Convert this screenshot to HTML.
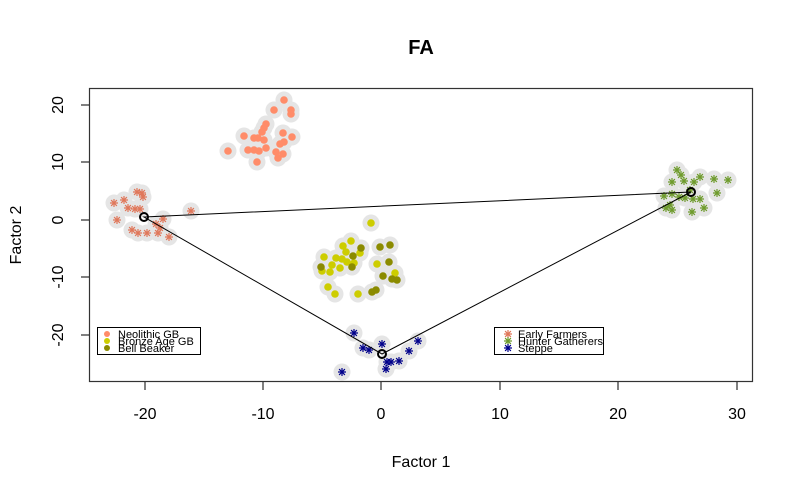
<!DOCTYPE html>
<html><head><meta charset="utf-8"><style>html,body{margin:0;padding:0;background:#fff}svg{display:block}text{font-family:"Liberation Sans",sans-serif}</style></head>
<body>
<svg width="799" height="494" viewBox="0 0 799 494" xmlns="http://www.w3.org/2000/svg">
<defs>
<g id="st"><path d="M-4 0H4M0 -4V4M-2.9 -2.9L2.9 2.9M-2.9 2.9L2.9 -2.9" stroke-width="1.2"/></g>
</defs>
<text x="421" y="54" font-size="20" font-weight="bold" text-anchor="middle">FA</text>
<g id="halo" fill="#e5e5e5">
<circle cx="284" cy="100" r="8.5"/><circle cx="274" cy="110" r="8.5"/><circle cx="291" cy="110" r="8.5"/><circle cx="291" cy="114" r="8.5"/><circle cx="266" cy="124" r="8.5"/><circle cx="264" cy="128" r="8.5"/><circle cx="262" cy="132" r="8.5"/><circle cx="244" cy="136" r="8.5"/><circle cx="254" cy="138" r="8.5"/><circle cx="258" cy="138" r="8.5"/><circle cx="264" cy="140" r="8.5"/><circle cx="283" cy="133" r="8.5"/><circle cx="292" cy="137" r="8.5"/><circle cx="284" cy="142" r="8.5"/><circle cx="280" cy="144" r="8.5"/><circle cx="248" cy="150" r="8.5"/><circle cx="254" cy="150" r="8.5"/><circle cx="259" cy="151" r="8.5"/><circle cx="266" cy="148" r="8.5"/><circle cx="276" cy="152" r="8.5"/><circle cx="283" cy="154" r="8.5"/><circle cx="278" cy="158" r="8.5"/><circle cx="257" cy="162" r="8.5"/><circle cx="228" cy="151" r="8.5"/>
<circle cx="114" cy="203" r="8.5"/><circle cx="124" cy="200" r="8.5"/><circle cx="137" cy="192" r="8.5"/><circle cx="142" cy="193" r="8.5"/><circle cx="143" cy="197" r="8.5"/><circle cx="128" cy="208" r="8.5"/><circle cx="135" cy="209" r="8.5"/><circle cx="140" cy="209" r="8.5"/><circle cx="117" cy="220" r="8.5"/><circle cx="163" cy="219" r="8.5"/><circle cx="156" cy="224" r="8.5"/><circle cx="160" cy="228" r="8.5"/><circle cx="132" cy="230" r="8.5"/><circle cx="138" cy="233" r="8.5"/><circle cx="147" cy="233" r="8.5"/><circle cx="158" cy="233" r="8.5"/><circle cx="169" cy="237" r="8.5"/><circle cx="191" cy="211" r="8.5"/>
<circle cx="371" cy="223" r="8.5"/><circle cx="343" cy="246" r="8.5"/><circle cx="351" cy="241" r="8.5"/><circle cx="346" cy="252" r="8.5"/><circle cx="360" cy="253" r="8.5"/><circle cx="324" cy="257" r="8.5"/><circle cx="336" cy="258" r="8.5"/><circle cx="342" cy="259" r="8.5"/><circle cx="347" cy="262" r="8.5"/><circle cx="354" cy="263" r="8.5"/><circle cx="332" cy="265" r="8.5"/><circle cx="322" cy="271" r="8.5"/><circle cx="330" cy="272" r="8.5"/><circle cx="340" cy="268" r="8.5"/><circle cx="377" cy="264" r="8.5"/><circle cx="395" cy="273" r="8.5"/><circle cx="328" cy="287" r="8.5"/><circle cx="335" cy="294" r="8.5"/><circle cx="358" cy="294" r="8.5"/>
<circle cx="361" cy="248" r="8.5"/><circle cx="353" cy="256" r="8.5"/><circle cx="352" cy="267" r="8.5"/><circle cx="321" cy="267" r="8.5"/><circle cx="380" cy="247" r="8.5"/><circle cx="390" cy="245" r="8.5"/><circle cx="389" cy="262" r="8.5"/><circle cx="383" cy="276" r="8.5"/><circle cx="392" cy="279" r="8.5"/><circle cx="397" cy="280" r="8.5"/><circle cx="376" cy="290" r="8.5"/><circle cx="372" cy="292" r="8.5"/>
<circle cx="354" cy="333" r="8.5"/><circle cx="363" cy="348" r="8.5"/><circle cx="369" cy="350" r="8.5"/><circle cx="382" cy="344" r="8.5"/><circle cx="387" cy="362" r="8.5"/><circle cx="391" cy="362" r="8.5"/><circle cx="399" cy="361" r="8.5"/><circle cx="409" cy="351" r="8.5"/><circle cx="418" cy="341" r="8.5"/><circle cx="386" cy="369" r="8.5"/><circle cx="342" cy="372" r="8.5"/>
<circle cx="677" cy="170" r="8.5"/><circle cx="681" cy="175" r="8.5"/><circle cx="672" cy="182" r="8.5"/><circle cx="684" cy="181" r="8.5"/><circle cx="694" cy="182" r="8.5"/><circle cx="700" cy="177" r="8.5"/><circle cx="714" cy="179" r="8.5"/><circle cx="728" cy="180" r="8.5"/><circle cx="717" cy="193" r="8.5"/><circle cx="690" cy="190" r="8.5"/><circle cx="664" cy="196" r="8.5"/><circle cx="672" cy="194" r="8.5"/><circle cx="679" cy="197" r="8.5"/><circle cx="685" cy="198" r="8.5"/><circle cx="693" cy="199" r="8.5"/><circle cx="700" cy="199" r="8.5"/><circle cx="670" cy="205" r="8.5"/><circle cx="672" cy="210" r="8.5"/><circle cx="692" cy="212" r="8.5"/><circle cx="704" cy="208" r="8.5"/><circle cx="666" cy="208" r="8.5"/>
</g>
<g fill="#FF8C69">
<circle cx="284" cy="100" r="3.8"/><circle cx="274" cy="110" r="3.8"/><circle cx="291" cy="110" r="3.8"/><circle cx="291" cy="114" r="3.8"/><circle cx="266" cy="124" r="3.8"/><circle cx="264" cy="128" r="3.8"/><circle cx="262" cy="132" r="3.8"/><circle cx="244" cy="136" r="3.8"/><circle cx="254" cy="138" r="3.8"/><circle cx="258" cy="138" r="3.8"/><circle cx="264" cy="140" r="3.8"/><circle cx="283" cy="133" r="3.8"/><circle cx="292" cy="137" r="3.8"/><circle cx="284" cy="142" r="3.8"/><circle cx="280" cy="144" r="3.8"/><circle cx="248" cy="150" r="3.8"/><circle cx="254" cy="150" r="3.8"/><circle cx="259" cy="151" r="3.8"/><circle cx="266" cy="148" r="3.8"/><circle cx="276" cy="152" r="3.8"/><circle cx="283" cy="154" r="3.8"/><circle cx="278" cy="158" r="3.8"/><circle cx="257" cy="162" r="3.8"/><circle cx="228" cy="151" r="3.8"/>
</g>
<g fill="#CDCD00">
<circle cx="371" cy="223" r="3.8"/><circle cx="343" cy="246" r="3.8"/><circle cx="351" cy="241" r="3.8"/><circle cx="346" cy="252" r="3.8"/><circle cx="360" cy="253" r="3.8"/><circle cx="324" cy="257" r="3.8"/><circle cx="336" cy="258" r="3.8"/><circle cx="342" cy="259" r="3.8"/><circle cx="347" cy="262" r="3.8"/><circle cx="354" cy="263" r="3.8"/><circle cx="332" cy="265" r="3.8"/><circle cx="322" cy="271" r="3.8"/><circle cx="330" cy="272" r="3.8"/><circle cx="340" cy="268" r="3.8"/><circle cx="377" cy="264" r="3.8"/><circle cx="395" cy="273" r="3.8"/><circle cx="328" cy="287" r="3.8"/><circle cx="335" cy="294" r="3.8"/><circle cx="358" cy="294" r="3.8"/>
</g>
<g fill="#8B8B00">
<circle cx="361" cy="248" r="3.8"/><circle cx="353" cy="256" r="3.8"/><circle cx="352" cy="267" r="3.8"/><circle cx="321" cy="267" r="3.8"/><circle cx="380" cy="247" r="3.8"/><circle cx="390" cy="245" r="3.8"/><circle cx="389" cy="262" r="3.8"/><circle cx="383" cy="276" r="3.8"/><circle cx="392" cy="279" r="3.8"/><circle cx="397" cy="280" r="3.8"/><circle cx="376" cy="290" r="3.8"/><circle cx="372" cy="292" r="3.8"/>
</g>
<g stroke="#E0775A">
<use href="#st" x="114" y="203"/><use href="#st" x="124" y="200"/><use href="#st" x="137" y="192"/><use href="#st" x="142" y="193"/><use href="#st" x="143" y="197"/><use href="#st" x="128" y="208"/><use href="#st" x="135" y="209"/><use href="#st" x="140" y="209"/><use href="#st" x="117" y="220"/><use href="#st" x="163" y="219"/><use href="#st" x="156" y="224"/><use href="#st" x="160" y="228"/><use href="#st" x="132" y="230"/><use href="#st" x="138" y="233"/><use href="#st" x="147" y="233"/><use href="#st" x="158" y="233"/><use href="#st" x="169" y="237"/><use href="#st" x="191" y="211"/>
</g>
<g stroke="#00008B">
<use href="#st" x="354" y="333"/><use href="#st" x="363" y="348"/><use href="#st" x="369" y="350"/><use href="#st" x="382" y="344"/><use href="#st" x="387" y="362"/><use href="#st" x="391" y="362"/><use href="#st" x="399" y="361"/><use href="#st" x="409" y="351"/><use href="#st" x="418" y="341"/><use href="#st" x="386" y="369"/><use href="#st" x="342" y="372"/>
</g>
<g stroke="#6E9B2C">
<use href="#st" x="677" y="170"/><use href="#st" x="681" y="175"/><use href="#st" x="672" y="182"/><use href="#st" x="684" y="181"/><use href="#st" x="694" y="182"/><use href="#st" x="700" y="177"/><use href="#st" x="714" y="179"/><use href="#st" x="728" y="180"/><use href="#st" x="717" y="193"/><use href="#st" x="690" y="190"/><use href="#st" x="664" y="196"/><use href="#st" x="672" y="194"/><use href="#st" x="679" y="197"/><use href="#st" x="685" y="198"/><use href="#st" x="693" y="199"/><use href="#st" x="700" y="199"/><use href="#st" x="670" y="205"/><use href="#st" x="672" y="210"/><use href="#st" x="692" y="212"/><use href="#st" x="704" y="208"/><use href="#st" x="666" y="208"/>
</g>
<polygon points="144,217 691,192 382,354" fill="none" stroke="#000" stroke-width="1"/>
<g fill="none" stroke="#000" stroke-width="2"><circle cx="144" cy="217" r="4"/><circle cx="691" cy="192" r="4"/><circle cx="382" cy="354" r="4"/></g>
<rect x="89.5" y="88.5" width="663" height="293" fill="none" stroke="#333" stroke-width="1.2"/>
<g stroke="#000" stroke-width="1">
<path d="M145 382V390M263 382V390M381 382V390M500 382V390M618 382V390M737 382V390"/>
<path d="M89 105H81M89 162H81M89 220H81M89 277H81M89 335H81"/>
</g>
<g font-size="16" text-anchor="middle">
<text x="145" y="419">-20</text><text x="263" y="419">-10</text><text x="381" y="419">0</text><text x="500" y="419">10</text><text x="618" y="419">20</text><text x="737" y="419">30</text>
<text x="421" y="467">Factor 1</text>
<text transform="translate(63,105) rotate(-90)">20</text>
<text transform="translate(63,162) rotate(-90)">10</text>
<text transform="translate(63,220) rotate(-90)">0</text>
<text transform="translate(63,277) rotate(-90)">-10</text>
<text transform="translate(63,335) rotate(-90)">-20</text>
<text transform="translate(21,235) rotate(-90)">Factor 2</text>
</g>
<rect x="97.5" y="327.5" width="103" height="27" fill="#fff" stroke="#000"/>
<circle cx="107" cy="334" r="3" fill="#FF8C69"/><circle cx="107" cy="341" r="3" fill="#CDCD00"/><circle cx="107" cy="348" r="3" fill="#8B8B00"/>
<g font-size="11"><text x="118" y="338">Neolithic GB</text><text x="118" y="345">Bronze Age GB</text><text x="118" y="352">Bell Beaker</text></g>
<rect x="494.5" y="327.5" width="109" height="27" fill="#fff" stroke="#000"/>
<use href="#st" x="508" y="334" stroke="#E0775A"/>
<use href="#st" x="508" y="341" stroke="#6E9B2C"/>
<use href="#st" x="508" y="348" stroke="#00008B"/>
<g font-size="11"><text x="518" y="338">Early Farmers</text><text x="518" y="345">Hunter Gatherers</text><text x="518" y="352">Steppe</text></g>
</svg>
</body></html>
